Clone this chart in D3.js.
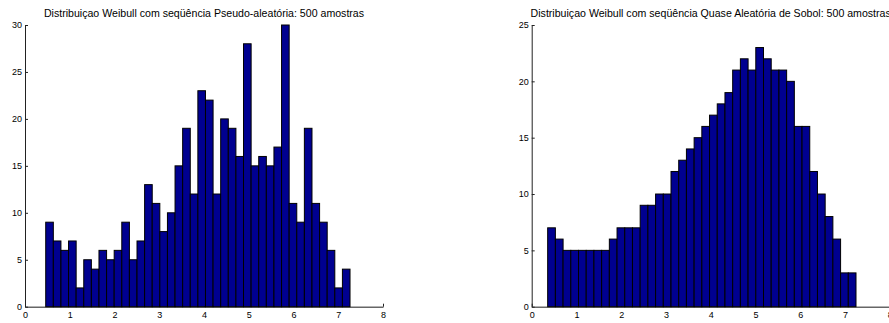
<!DOCTYPE html>
<html>
<head>
<meta charset="utf-8">
<script src="https://cdn.jsdelivr.net/npm/d3@7"></script>
<style>
  body { margin: 0; background: #fff; }
  svg { display: block; font-family: "Liberation Sans", Arial, Helvetica, sans-serif; }
</style>
</head>
<body>
<svg id="chart" width="889" height="323"></svg>
<script>
// counts (40 bins each)
const pseudoCounts = [9, 7, 6, 7, 2, 5, 4, 6, 5, 6, 9, 5, 7, 13, 11, 8, 10, 15, 19, 12,
	23, 22, 12, 20, 19, 16, 28, 15, 16, 15, 17, 30, 11, 9, 19, 11, 9, 6, 2, 4];
const sobolCounts = [7, 6, 5, 5, 5, 5, 5, 5, 6, 7, 7, 7, 9, 9, 10, 10, 12, 13, 14, 15,
	16, 17, 18, 19, 21, 22, 21, 23, 22, 21, 21, 20, 16, 16, 12, 10, 8, 6, 3, 3];
// bin ranges (x values of first and last edge)
const pseudoRange = [0.463, 7.263];
const sobolRange = [0.357, 7.247];
const xTicks = [0, 1, 2, 3, 4, 5, 6, 7, 8];
const pseudoYTicks = [0, 5, 10, 15, 20, 25, 30];
const sobolYTicks = [0, 5, 10, 15, 20, 25];
const titles = [
	"Distribuiçao Weibull com seqüência Pseudo-aleatória: 500 amostras",
	"Distribuiçao Weibull com seqüência Quase Aleatória de Sobol: 500 amostras"
];

const svg = d3.select("#chart");
const axTop = 25, axBottom = 306.7, axW = 358;

function drawHist(left, counts, range, yTicks, title) {
	let g = svg.append("g");
	let x = d3.scaleLinear().domain([0, 8]).range([left, left + axW]);
	let y = d3.scaleLinear().domain([0, d3.max(yTicks)]).range([axBottom, axTop]);

	let binW = (range[1] - range[0]) / counts.length;
	let bins = counts.map((c, i) => ({x0: range[0] + i * binW, x1: range[0] + (i + 1) * binW, n: c}));

	// x axis, inward ticks like matlab
	let xa = g.append("g")
		.attr("transform", "translate(0," + axBottom + ")")
		.call(d3.axisBottom(x).tickValues(xTicks).tickFormat(d3.format("d"))
			.tickSizeInner(-3).tickSizeOuter(0).tickPadding(5));
	xa.select(".domain").attr("stroke", "#666").attr("stroke-width", 1.5);

	let ya = g.append("g")
		.attr("transform", "translate(" + left + ",0)")
		.call(d3.axisLeft(y).tickValues(yTicks).tickFormat(d3.format("d"))
			.tickSizeInner(-3).tickSizeOuter(0).tickPadding(3));
	ya.select(".domain").attr("stroke", "#222");

	g.selectAll(".tick text").attr("font-size", 9).attr("fill", "#000")
		.attr("font-family", "Liberation Sans, Arial, sans-serif");
	g.selectAll(".tick line").attr("stroke", "#222");

	g.append("g").selectAll("rect")
		.data(bins)
		.enter().append("rect")
		.attr("x", d => x(d.x0))
		.attr("y", d => y(d.n))
		.attr("width", d => x(d.x1) - x(d.x0))
		.attr("height", d => axBottom - y(d.n))
		.attr("fill", "#000090")
		.attr("stroke", "#000")
		.attr("stroke-width", 1);

	g.append("text")
		.attr("x", left + axW / 2)
		.attr("y", 16.5)
		.attr("text-anchor", "middle")
		.attr("font-size", 10.6)
		.text(title);
}

drawHist(25, pseudoCounts, pseudoRange, pseudoYTicks, titles[0]);
drawHist(531.7, sobolCounts, sobolRange, sobolYTicks, titles[1]);
</script>
</body>
</html>
